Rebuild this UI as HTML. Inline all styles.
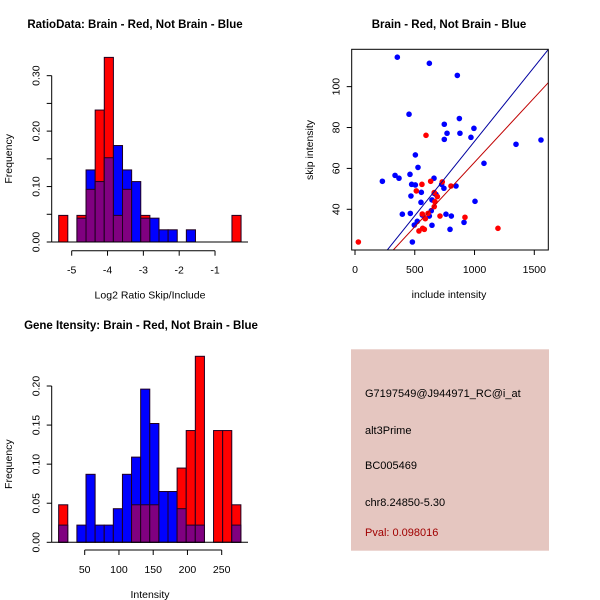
<!DOCTYPE html>
<html><head><meta charset="utf-8"><style>
body{margin:0;background:#fff}
svg{display:block;font-family:"Liberation Sans",sans-serif}
</style></head><body>
<svg id="c" width="600" height="600" xmlns="http://www.w3.org/2000/svg">
<rect x="351" y="349.3" width="198" height="201.4" fill="#E5C6C0"/>
<g font-size="11">
<text x="365" y="397">G7197549@J944971_RC@i_at</text>
<text x="365" y="434">alt3Prime</text>
<text x="365" y="469">BC005469</text>
<text x="365" y="506">chr8.24850-5.30</text>
<text x="365" y="536" fill="#A00000">Pval: 0.098016</text>
</g>
</svg>
<script>
// Top-left histogram data
const h1Red = [0.048,0,0.048,0.095,0.238,0.333,0.048,0.095,0,0.048,0,0,0,0,0,0,0,0,0,0.048];
const h1Blue = [0,0,0.043,0.13,0.109,0.152,0.174,0.13,0.109,0.043,0.043,0.022,0.022,0,0.022,0,0,0,0,0];
const h1Start = -5.363, h1Width = 0.2545;
const h1XTicks = [-5,-4,-3,-2,-1];
const h1YTicks = [0,0.05,0.1,0.15,0.2,0.25,0.3];
const h1YLabels = ["0.00","","0.10","","0.20","","0.30"];
// Bottom-left histogram data
const h2Red = [0.048,0,0,0,0,0,0,0,0.048,0.048,0.048,0,0,0.095,0.143,0.238,0,0.143,0.143,0.048];
const h2Blue = [0.022,0,0.022,0.087,0.022,0.022,0.043,0.087,0.109,0.196,0.152,0.065,0.065,0.043,0.022,0.022,0,0,0,0.022];
const h2Start = 12, h2Width = 13.3;
const h2XTicks = [50,100,150,200,250];
const h2YTicks = [0,0.05,0.1,0.15,0.2];
const h2YLabels = ["0.00","0.05","0.10","0.15","0.20"];
// Scatter data
const blueX = [354,622,856,452,873,747,995,770,878,747,970,1556,1347,505,1079,527,229,335,368,460,474,505,661,555,468,552,663,677,725,744,845,644,1004,396,463,563,622,638,761,806,521,496,644,912,795,480];
const blueY = [114.4,111.4,105.5,86.5,84.4,81.6,79.6,77.2,77.2,74.2,75.2,73.9,71.8,66.6,62.5,60.5,53.7,56.6,55.2,57.1,52.2,51.9,55.2,48.3,46.5,43.4,47.8,47.3,52.2,50.3,51.4,44.6,43.9,37.6,38,37.2,36.7,39.3,37.6,36.7,34.1,32.3,32.2,33.6,30.2,24];
const redX = [28,594,560,633,730,803,513,663,689,669,663,711,563,611,588,920,535,566,580,1196];
const redY = [24,76.2,52.2,53.7,53.4,51.4,49,48.2,46.2,43.7,41.3,36.7,37.7,38,35.4,36.1,29.4,30.7,30.2,30.7];
const blueSlope = 0.0728, blueIntercept = 0.44;
const redSlope = 0.0631, redIntercept = -0.1;
const scXTicks = [0,500,1000,1500];
const scYTicks = [40,60,80,100];

const svg = document.getElementById('c');
const NS = 'http://www.w3.org/2000/svg';
function mk(tag, attrs, parent){const e=document.createElementNS(NS,tag);for(const k in attrs)e.setAttribute(k,attrs[k]);(parent||svg).appendChild(e);return e;}
function txt(s, attrs, parent){const e=mk('text',attrs,parent);e.textContent=s;return e;}

function hist(cfg){
  const g = mk('g',{});
  
  
  const xs = v => cfg.x0 + (v - cfg.xv0)*cfg.kx;
  const ys = v => cfg.y0 - v*cfg.ky;
  for(let i=0;i<cfg.red.length;i++){
    const l = xs(cfg.start + i*cfg.w), r = xs(cfg.start+(i+1)*cfg.w);
    const rv = cfg.red[i], bv = cfg.blue[i];
    const hi = Math.max(rv,bv), lo = Math.min(rv,bv);
    if(hi>0){
      const b = mk('rect',{x:l,y:ys(hi),width:r-l,height:ys(0)-ys(hi),fill:rv>bv?'#FF0000':'#0000FF',stroke:'#200020','stroke-width':1},g);
      
      
    }
    if(lo>0){
      const p = mk('rect',{x:l,y:ys(lo),width:r-l,height:ys(0)-ys(lo),fill:'#800080',stroke:'#200020','stroke-width':1},g);
      
      
    }
  }
  mk('line',{x1:51.7,x2:248,y1:cfg.y0,y2:cfg.y0,stroke:'#000'},g);
  const ya = mk('g',{},g);
  
  
  const yt = cfg.yticks;
  mk('line',{x1:cfg.yax,x2:cfg.yax,y1:ys(yt[0]),y2:ys(yt[yt.length-1]),stroke:'#000'},ya);
  yt.forEach((t,i)=>{
    mk('line',{x1:cfg.yax-5,x2:cfg.yax,y1:ys(t),y2:ys(t),stroke:'#000'},ya);
    if(cfg.ylabels[i]){txt(cfg.ylabels[i],{x:0,y:0,'font-size':10.5,'text-anchor':'middle',transform:`translate(${cfg.yax-12},${ys(t)}) rotate(-90)`},ya);}
  });
  const xa = mk('g',{},g);
  
  
  const xt = cfg.xticks;
  mk('line',{x1:xs(xt[0]),x2:xs(xt[xt.length-1]),y1:cfg.xay,y2:cfg.xay,stroke:'#000'},xa);
  xt.forEach(t=>{
    mk('line',{x1:xs(t),x2:xs(t),y1:cfg.xay,y2:cfg.xay+5,stroke:'#000'},xa);
    txt(String(t),{x:xs(t),y:cfg.xay+23,'font-size':10.5,'text-anchor':'middle'},xa);
  });
  const t1=txt(cfg.title,{x:cfg.tx,y:cfg.ty,'font-size':11.5,'font-weight':'bold','text-anchor':'middle'},g);
   
  const t2=txt(cfg.xlab,{x:150,y:cfg.xay+48,'font-size':10.5,'text-anchor':'middle'},g);
   
  const t3=txt('Frequency',{x:0,y:0,'font-size':10.5,'text-anchor':'middle',transform:`translate(12,${(ys(0)+ys(yt[yt.length-1]))/2}) rotate(-90)`},g);
   
}

hist({name:'ratio-histogram',red:h1Red,blue:h1Blue,start:h1Start,w:h1Width,x0:71.7,xv0:-5,kx:35.83,y0:242,ky:554.4,
  yax:51.7,xay:250.7,xticks:h1XTicks,yticks:h1YTicks,ylabels:h1YLabels,title:'RatioData: Brain - Red, Not Brain - Blue',tx:135,ty:28,xlab:'Log2 Ratio Skip/Include'});
hist({name:'intensity-histogram',red:h2Red,blue:h2Blue,start:h2Start,w:h2Width,x0:84.7,xv0:50,kx:0.685,y0:542.3,ky:781.5,
  yax:51.7,xay:550,xticks:h2XTicks,yticks:h2YTicks,ylabels:h2YLabels,title:'Gene Itensity: Brain - Red, Not Brain - Blue',tx:141,ty:329,xlab:'Intensity'});

(function(){
  const g = mk('g',{});
  
  
  const L=351.7,R=548.3,T=49.3,B=250;
  const xs = v => 355 + v*0.11953;
  const ys = v => 209.3 - (v-40)*2.0444;
  const defs = mk('defs',{},g);
  const cp = mk('clipPath',{id:'clipsc'},defs);
  mk('rect',{x:L,y:T,width:R-L,height:B-T},cp);
  const pts = mk('g',{},g);
  blueX.forEach((x,i)=>{const c=mk('circle',{cx:xs(x),cy:ys(blueY[i]),r:2.8,fill:'#0000FF'},pts);
     });
  redX.forEach((x,i)=>{const c=mk('circle',{cx:xs(x),cy:ys(redY[i]),r:2.8,fill:'#FF0000'},pts);
     });
  const lg = mk('g',{'clip-path':'url(#clipsc)'},g);
  const lb=mk('line',{x1:xs(0),y1:ys(blueIntercept),x2:xs(2000),y2:ys(blueIntercept+blueSlope*2000),stroke:'#0000A0','stroke-width':1},lg);
   
  const lr=mk('line',{x1:xs(0),y1:ys(redIntercept),x2:xs(2000),y2:ys(redIntercept+redSlope*2000),stroke:'#C00000','stroke-width':1},lg);
   
  mk('rect',{x:L,y:T,width:R-L,height:B-T,fill:'none',stroke:'#000'},g);
  const xa=mk('g',{},g);  
  mk('line',{x1:xs(scXTicks[0]),x2:xs(scXTicks[scXTicks.length-1]),y1:B,y2:B,stroke:'#000'},xa);
  scXTicks.forEach(t=>{mk('line',{x1:xs(t),x2:xs(t),y1:B,y2:B+5,stroke:'#000'},xa);
    txt(String(t),{x:xs(t),y:B+23,'font-size':10.5,'text-anchor':'middle'},xa);});
  const ya=mk('g',{},g);  
  scYTicks.forEach(t=>{mk('line',{x1:L-5,x2:L,y1:ys(t),y2:ys(t),stroke:'#000'},ya);
    txt(String(t),{x:0,y:0,'font-size':10.5,'text-anchor':'middle',transform:`translate(${L-12},${ys(t)}) rotate(-90)`},ya);});
  const t1=txt('Brain - Red, Not Brain - Blue',{x:449,y:28,'font-size':11.5,'font-weight':'bold','text-anchor':'middle'},g);
   
  const t2=txt('include intensity',{x:449,y:298,'font-size':10.5,'text-anchor':'middle'},g);
   
  const t3=txt('skip intensity',{x:0,y:0,'font-size':10.5,'text-anchor':'middle',transform:`translate(313,150) rotate(-90)`},g);
   
})();
</script>
</body></html>
